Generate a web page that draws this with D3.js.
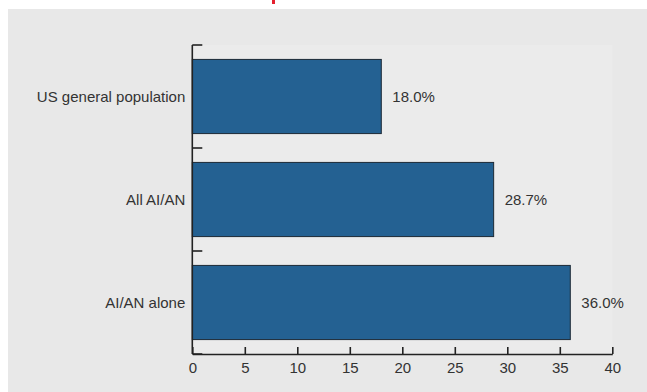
<!DOCTYPE html>
<html>
<head>
<meta charset="utf-8">
<script src="https://cdn.jsdelivr.net/npm/d3@7/dist/d3.min.js"></script>
<style>
  html, body { margin: 0; padding: 0; background: #ffffff; }
  svg { display: block; }
  text { font-family: "Liberation Sans", Arial, sans-serif; fill: #333333; }
</style>
</head>
<body>
<svg id="chart" width="647" height="392"></svg>
<script>
// Share of each population group (percent)
const categories = ["US general population", "All AI/AN", "AI/AN alone"];
const values = [18.0, 28.7, 36.0];
const xTicks = [0, 5, 10, 15, 20, 25, 30, 35, 40];
const xDomain = [0, 40];

const W = 647, H = 392;
const panel = { x: 8, y: 9 };
const margin = { top: 45, right: 34.7, bottom: 38, left: 192.3 };
const fontSize = 15;

const svg = d3.select("#chart");

// grey panel behind the chart
svg.append("rect")
  .attr("x", panel.x).attr("y", panel.y)
  .attr("width", W - panel.x).attr("height", H - panel.y)
  .attr("fill", "#e8e8e8");

// red accent peeking in above the panel
svg.append("rect")
  .attr("x", 272).attr("y", 0).attr("width", 3).attr("height", 4)
  .attr("fill", "#e4202e");

const x = d3.scaleLinear()
  .domain(xDomain)
  .range([margin.left, W - margin.right]);

const y = d3.scaleBand()
  .domain(categories)
  .range([margin.top, H - margin.bottom])
  .paddingInner(0.28)
  .paddingOuter(0.14);

// plot area, slightly lighter than the panel
svg.append("rect")
  .attr("x", x(xDomain[0])).attr("y", margin.top)
  .attr("width", x(xDomain[1]) - x(xDomain[0]))
  .attr("height", H - margin.bottom - margin.top)
  .attr("fill", "#ebebeb");

// bars
svg.append("g").selectAll("rect")
  .data(categories)
  .join("rect")
  .attr("x", x(0))
  .attr("y", d => y(d))
  .attr("width", (d, i) => x(values[i]) - x(0))
  .attr("height", y.bandwidth())
  .attr("fill", "#246192")
  .attr("stroke", "#1d2a36")
  .attr("stroke-width", 1);

// value labels
svg.append("g").selectAll("text")
  .data(categories)
  .join("text")
  .attr("x", (d, i) => x(values[i]) + 11)
  .attr("y", d => y(d) + y.bandwidth() / 2)
  .attr("dy", "0.35em")
  .attr("font-size", fontSize)
  .text((d, i) => values[i].toFixed(1) + "%");

// x axis
const xAxis = svg.append("g")
  .attr("transform", `translate(0,${H - margin.bottom})`)
  .call(d3.axisBottom(x).tickValues(xTicks).tickSize(-7).tickPadding(8).tickSizeOuter(0));
xAxis.select(".domain").attr("stroke", "#222").attr("stroke-width", 1.6);
xAxis.selectAll(".tick line").attr("stroke", "#222").attr("stroke-width", 1.6);
xAxis.selectAll(".tick text")
  .attr("font-size", fontSize).attr("font-family", "Liberation Sans, Arial, sans-serif").attr("fill", "#333");

// y axis: line with ticks at band boundaries, labels at band centres
const yAxisG = svg.append("g");
const boundaries = categories.map(c => y(c) - y.step() * y.paddingInner() / 2)
  .concat([H - margin.bottom]);
yAxisG.append("line")
  .attr("x1", x(0)).attr("x2", x(0))
  .attr("y1", margin.top).attr("y2", H - margin.bottom)
  .attr("stroke", "#222").attr("stroke-width", 1.6);
yAxisG.selectAll("line.tick")
  .data(boundaries)
  .join("line")
  .attr("class", "tick")
  .attr("x1", x(0)).attr("x2", x(0) + 10)
  .attr("y1", d => d).attr("y2", d => d)
  .attr("stroke", "#222").attr("stroke-width", 1.6);
yAxisG.selectAll("text")
  .data(categories)
  .join("text")
  .attr("x", x(0) - 7)
  .attr("y", d => y(d) + y.bandwidth() / 2)
  .attr("dy", "0.35em")
  .attr("text-anchor", "end")
  .attr("font-size", fontSize)
  .text(d => d);
</script>
</body>
</html>
